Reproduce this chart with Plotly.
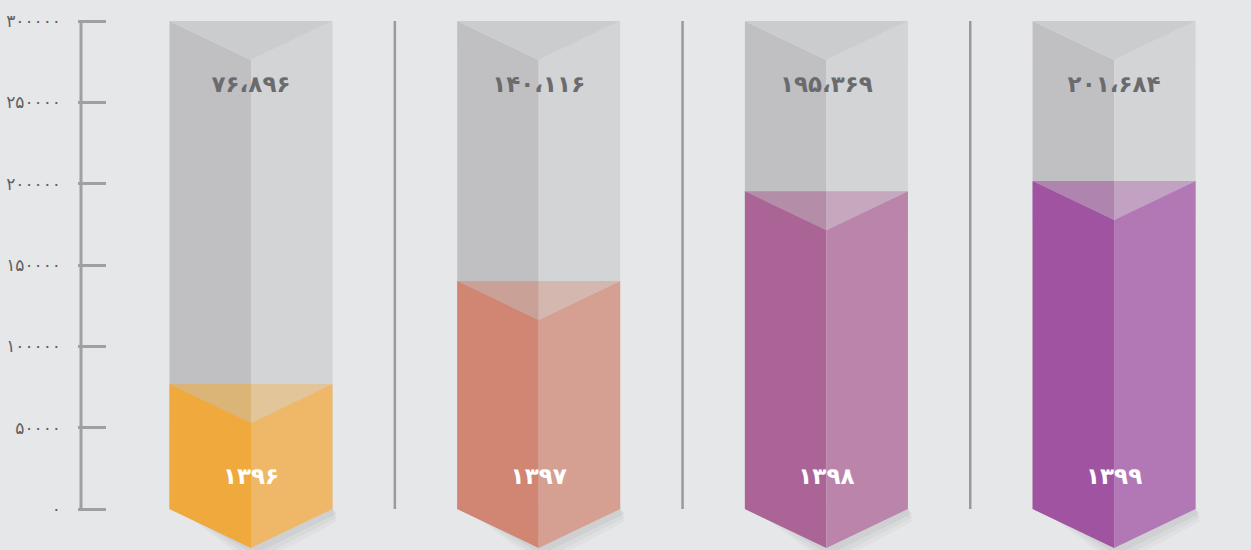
import plotly.graph_objects as go

years = ["۱۳۹۶", "۱۳۹۷", "۱۳۹۸", "۱۳۹۹"]
values = [76896, 140116, 195369, 201684]
value_labels = ["۷۶،۸۹۶", "۱۴۰،۱۱۶", "۱۹۵،۳۶۹", "۲۰۱،۶۸۴"]
left_colors = ["#f0a93c", "#d08672", "#aa6495", "#a053a1"]
right_colors = ["#eeb868", "#d5a092", "#ba84ab", "#b278b5"]
tick_vals = [0, 50000, 100000, 150000, 200000, 250000, 300000]
tick_text = ["۰", "۵۰۰۰۰", "۱۰۰۰۰۰", "۱۵۰۰۰۰", "۲۰۰۰۰۰", "۲۵۰۰۰۰", "۳۰۰۰۰۰"]

YMAX = 300000
HW = 0.2833        # half width of prism (x units)
D = 23975          # depth of the V (y units)
BG = "#e6e7e9"
FONT = "DejaVu Sans"


def hex_rgba(h, a):
    h = h.lstrip("#")
    r, g, b = int(h[0:2], 16), int(h[2:4], 16), int(h[4:6], 16)
    return f"rgba({r},{g},{b},{a})"


fig = go.Figure()


def poly(xs, ys, color):
    fig.add_trace(go.Scatter(
        x=xs + [xs[0]], y=ys + [ys[0]], mode="lines", fill="toself",
        fillcolor=color, line=dict(width=0, color=color),
        hoverinfo="skip", showlegend=False))


for i, v in enumerate(values):
    c = i
    L, R = c - HW, c + HW
    # soft shadow under the bottom point
    for k, a in [(11000, 0.035), (7500, 0.045), (4000, 0.06)]:
        poly([L + 0.03, c + 0.01, R + 0.015, R], [0, -D - k, -k * 0.7, 0], f"rgba(60,60,70,{a})")
    # grey container
    poly([L, c, c, L], [YMAX, YMAX - D, -D, 0], "#c0c0c2")
    poly([c, R, R, c], [YMAX - D, YMAX, 0, -D], "#d3d4d6")
    poly([L, R, c], [YMAX, YMAX, YMAX - D], "#cbcccd")
    # coloured fill
    poly([L, c, c, L], [v, v - D, -D, 0], left_colors[i])
    poly([c, R, R, c], [v - D, v, 0, -D], right_colors[i])
    poly([L, c, c], [v, v, v - D], hex_rgba(left_colors[i], 0.55))
    poly([c, R, c], [v, v, v - D], hex_rgba(right_colors[i], 0.55))

# separators
for s in [0.5, 1.5, 2.5]:
    fig.add_trace(go.Scatter(x=[s, s], y=[0, YMAX], mode="lines",
                             line=dict(color="#9a9a9c", width=2.5),
                             hoverinfo="skip", showlegend=False))

# y axis line
XA = (81 - 251) / 287.7
fig.add_trace(go.Scatter(x=[XA, XA], y=[0, YMAX], mode="lines",
                         line=dict(color="#a0a0a2", width=3),
                         hoverinfo="skip", showlegend=False))

# value labels
fig.add_trace(go.Scatter(
    x=list(range(len(values))), y=[260000] * len(values), mode="text",
    text=value_labels,
    textfont=dict(family=FONT, size=23, color="#6b6b6d", weight="bold"),
    hoverinfo="skip", showlegend=False))
# year labels
fig.add_trace(go.Scatter(
    x=list(range(len(values))), y=[19000] * len(values), mode="text",
    text=years,
    textfont=dict(family=FONT, size=23, color="#ffffff", weight="bold"),
    hoverinfo="skip", showlegend=False))

x0 = (78 - 251) / 287.7
x1 = x0 + 1173 / 287.7
y_lo = -(41 / 488) * YMAX
y_hi = YMAX + (21 / 488) * YMAX

fig.update_layout(
    width=1251, height=550,
    margin=dict(l=78, r=0, t=0, b=0),
    paper_bgcolor=BG, plot_bgcolor=BG,
    xaxis=dict(range=[x0, x1], visible=False, fixedrange=True),
    yaxis=dict(range=[y_lo, y_hi], tickvals=tick_vals, ticktext=tick_text,
               ticks="inside", ticklen=28, tickwidth=2.5, tickcolor="#a0a0a2",
               showgrid=False, zeroline=False, showline=False,
               ticklabelstandoff=16, automargin=False,
               tickfont=dict(family=FONT, size=17, color="#5f5f61"),
               fixedrange=True),
)

fig.write_html(
    "out.html",
    config={"displayModeBar": False},
    post_script="document.body.style.margin='0';document.body.style.background='#e6e7e9';document.body.style.overflow='hidden';",
)
